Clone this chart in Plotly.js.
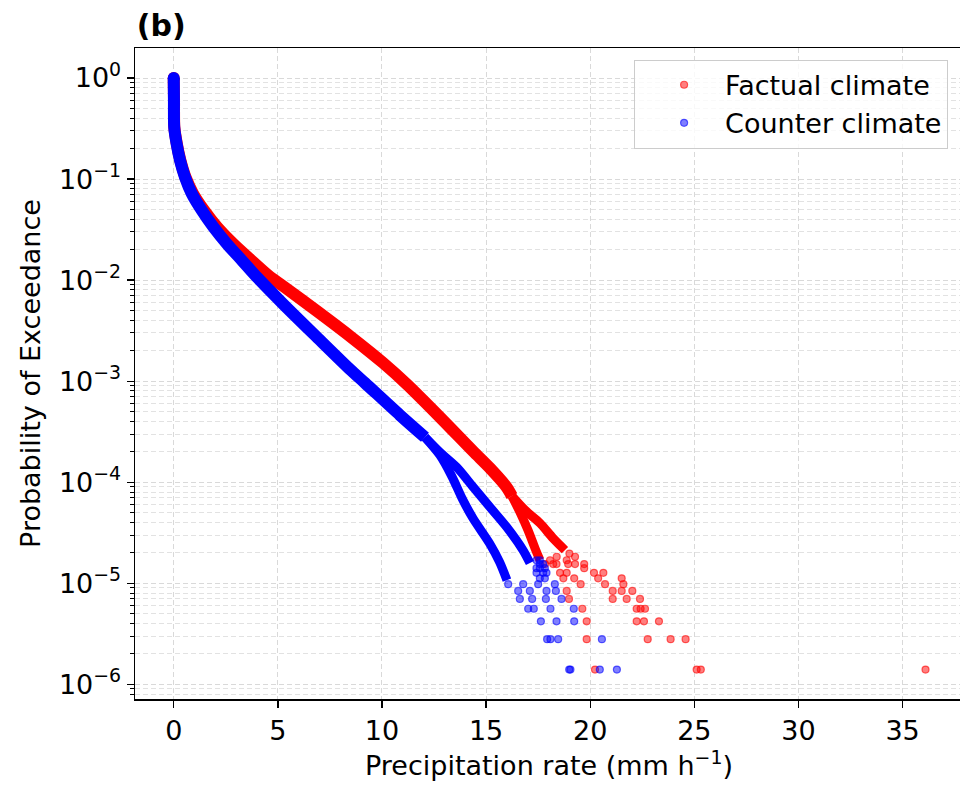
<!DOCTYPE html>
<html>
<head>
<meta charset="utf-8">
<script src="https://cdn.plot.ly/plotly-3.0.1.min.js"></script>
<style>html,body{margin:0;padding:0;overflow:hidden;background:#fff}</style>
</head>
<body>
<div id="chart" style="width:970px;height:786px"></div>
<script>
// ---- Factual climate: dense band ----
const factualBandX = [0, 0.014, 0.029, 0.144, 0.317, 0.566, 0.927, 1.455, 2.079, 2.847, 3.663, 4.527, 5.262, 6.865, 8.464, 10.048, 11.2, 12.785, 14.369, 15.185, 15.987, 16.241];
const factualBandY = [1.0, 0.601, 0.325, 0.226, 0.1535, 0.1042, 0.0719, 0.0491, 0.0336, 0.0230, 0.01609, 0.01118, 0.0087, 0.00496, 0.002787, 0.00152, 0.00093, 4.4e-4, 2.03e-4, 1.379e-4, 8.94e-5, 7.29e-5];
const factualStrandAX = [16.241, 16.625, 17.009, 17.345, 17.585];
const factualStrandAY = [7.29e-5, 5.06e-5, 3.36e-5, 2.23e-5, 1.696e-5];
const factualStrandBX = [16.241, 16.865, 17.585, 18.209, 18.785];
const factualStrandBY = [7.29e-5, 5.30e-5, 3.94e-5, 2.80e-5, 2.13e-5];
// ---- Factual climate: sparse tail points ----
const factualTailX = [19.0, 19.27, 18.07, 18.39, 18.87,
  17.83, 18.22, 18.38, 18.94, 19.27, 19.71,
  19.71,
  18.55, 18.87, 20.18, 20.63,
  18.71, 19.23, 20.38, 21.51,
  19.54, 20.71, 21.59,
  18.87, 21.08, 21.51, 22.02,
  18.98, 21.08, 21.75, 22.39,
  19.62, 22.23, 22.42, 22.63,
  19.83, 22.23, 22.58, 23.30,
  19.83, 22.76, 23.86, 24.58,
  20.23, 25.11, 25.31, 36.1];
const factualTailY = [1.97e-5, 1.83e-5, 1.69e-5, 1.83e-5, 1.69e-5,
  1.55e-5, 1.55e-5, 1.55e-5, 1.55e-5, 1.55e-5, 1.55e-5,
  1.41e-5,
  1.27e-5, 1.27e-5, 1.27e-5, 1.27e-5,
  1.12e-5, 1.12e-5, 1.12e-5, 1.12e-5,
  9.8e-6, 9.8e-6, 9.8e-6,
  8.4e-6, 8.4e-6, 8.4e-6, 8.4e-6,
  7.0e-6, 7.0e-6, 7.0e-6, 7.0e-6,
  5.6e-6, 5.6e-6, 5.6e-6, 5.6e-6,
  4.2e-6, 4.2e-6, 4.2e-6, 4.2e-6,
  2.8e-6, 2.8e-6, 2.8e-6, 2.8e-6,
  1.4e-6, 1.4e-6, 1.4e-6, 1.4e-6];

// ---- Counter climate: dense band ----
const counterBandX = [0, 0.01, 0.024, 0.134, 0.302, 0.542, 0.864, 1.344, 1.901, 2.544, 3.265, 3.985, 5.262, 6.865, 8.464, 9.184, 10.864, 12.064];
const counterBandY = [1.0, 0.601, 0.325, 0.226, 0.1535, 0.1042, 0.0719, 0.0491, 0.0336, 0.0230, 0.01573, 0.01075, 0.00578, 0.00274, 0.00131, 0.00096, 0.000461, 0.000279];
const counterStrandAX = [12.064, 12.785, 13.35, 13.85, 14.369, 15.185, 15.65, 16.0];
const counterStrandAY = [2.79e-4, 1.85e-4, 1.15e-4, 6.9e-5, 4.4e-5, 2.45e-5, 1.62e-5, 1.075e-5];
const counterStrandBX = [12.064, 12.785, 13.586, 14.383, 15.185, 15.987, 16.769, 17.105];
const counterStrandBY = [2.79e-4, 1.975e-4, 1.41e-4, 8.94e-5, 5.67e-5, 3.6e-5, 2.13e-5, 1.585e-5];
// ---- Counter climate: sparse tail points ----
const counterTailX = [17.42, 17.58,
  17.58, 17.74,
  17.42, 17.58, 17.82,
  17.42, 17.74, 17.90,
  17.58, 17.82,
  16.06, 16.78, 17.50, 18.30,
  16.54, 17.10, 17.90, 18.35,
  16.62, 17.21, 17.87, 18.62,
  17.02, 17.29, 18.09, 19.21,
  17.63, 18.38, 19.23,
  17.93, 18.09, 18.46, 20.56,
  18.99, 19.05, 20.46, 21.28];
const counterTailY = [1.69e-5, 1.69e-5,
  1.55e-5, 1.55e-5,
  1.41e-5, 1.41e-5, 1.41e-5,
  1.27e-5, 1.27e-5, 1.27e-5,
  1.12e-5, 1.12e-5,
  9.8e-6, 9.8e-6, 9.8e-6, 9.8e-6,
  8.4e-6, 8.4e-6, 8.4e-6, 8.4e-6,
  7.0e-6, 7.0e-6, 7.0e-6, 7.0e-6,
  5.6e-6, 5.6e-6, 5.6e-6, 5.6e-6,
  4.2e-6, 4.2e-6, 4.2e-6,
  2.8e-6, 2.8e-6, 2.8e-6, 2.8e-6,
  1.4e-6, 1.4e-6, 1.4e-6, 1.4e-6];

// ---- Axis ticks ----
const xTicks = [0, 5, 10, 15, 20, 25, 30, 35];
const yTickVals = [1e-6, 1e-5, 1e-4, 1e-3, 1e-2, 1e-1, 1];
const yTickText = ['10<sup>−6</sup>', '10<sup>−5</sup>', '10<sup>−4</sup>', '10<sup>−3</sup>', '10<sup>−2</sup>', '10<sup>−1</sup>', '10<sup>0</sup>'];

const minorVals = [];
for (let e = -7; e <= 0; e++) { for (let d = 2; d <= 9; d++) minorVals.push(d * Math.pow(10, e)); }

const RED = 'rgb(255,0,0)', BLUE = 'rgb(0,0,255)';
function band(x, y, color, w) {
  return {x: x, y: y, type: 'scatter', mode: 'lines', showlegend: false, hoverinfo: 'skip',
    line: {color: color, width: w, shape: 'spline', smoothing: 0.8}};
}
function cap(x, y, color, w) {
  return {x: [x[0]], y: [y[0]], type: 'scatter', mode: 'markers', showlegend: false, hoverinfo: 'skip',
    marker: {color: color, size: w, line: {width: 0}}};
}
function tail(x, y, name, rgb) {
  return {x: x, y: y, type: 'scatter', mode: 'markers', name: name,
    marker: {size: 7, color: 'rgba(' + rgb + ',0.5)', line: {color: 'rgba(' + rgb + ',0.6)', width: 1.2}}};
}

const traces = [
  band(factualBandX, factualBandY, RED, 12),
  band(factualStrandAX, factualStrandAY, RED, 9),
  band(factualStrandBX, factualStrandBY, RED, 9),
  cap(factualBandX, factualBandY, RED, 12),
  tail(factualTailX, factualTailY, 'Factual climate', '255,0,0'),
  band(counterBandX, counterBandY, BLUE, 12),
  band(counterStrandAX, counterStrandAY, BLUE, 9),
  band(counterStrandBX, counterStrandBY, BLUE, 9),
  cap(counterBandX, counterBandY, BLUE, 12),
  tail(counterTailX, counterTailY, 'Counter climate', '0,0,255')
];

const FONT = 'DejaVu Sans, Liberation Sans, sans-serif';
const layout = {
  width: 970, height: 786,
  margin: {l: 135, r: 7, t: 48, b: 87, pad: 0},
  paper_bgcolor: '#fff', plot_bgcolor: '#fff',
  font: {family: FONT, size: 27, color: '#000'},
  title: {text: '<b>(b)</b>', x: 0.141, xanchor: 'left', xref: 'container', y: 0.968, yanchor: 'middle', yref: 'container',
    font: {family: FONT, size: 30, color: '#000'}},
  xaxis: {
    type: 'linear', range: [-1.86, 37.9], tickmode: 'array', tickvals: xTicks, ticktext: xTicks.map(String),
    showline: true, linecolor: '#000', linewidth: 1.5, mirror: true, zeroline: false,
    ticks: 'outside', ticklen: 7, tickwidth: 1.3, tickcolor: '#000',
    showgrid: true, gridcolor: '#d9d9d9', gridwidth: 1, griddash: '5px,3px',
    tickfont: {size: 27},
    title: {text: 'Precipitation rate (mm h<sup>−1</sup>)', font: {size: 27}, standoff: 8}
  },
  yaxis: {
    type: 'log', range: [-6.145, 0.297], tickmode: 'array', tickvals: yTickVals, ticktext: yTickText,
    showline: true, linecolor: '#000', linewidth: 1.5, mirror: true, zeroline: false,
    ticks: 'outside', ticklen: 7, tickwidth: 1.3, tickcolor: '#000',
    showgrid: true, gridcolor: '#d9d9d9', gridwidth: 1, griddash: '5px,3px',
    tickfont: {size: 27},
    minor: {tickmode: 'array', tickvals: minorVals, ticks: 'outside', ticklen: 4, tickwidth: 1, tickcolor: '#000',
      showgrid: true, gridcolor: '#e2e2e2', gridwidth: 1, griddash: '5px,3px'},
    title: {text: 'Probability of Exceedance', font: {size: 27}, standoff: 10}
  },
  legend: {x: 0.982, xanchor: 'right', y: 0.982, yanchor: 'top', bgcolor: 'rgba(255,255,255,0.8)',
    bordercolor: '#cccccc', borderwidth: 1, font: {size: 27}, itemwidth: 72, indentation: 8},
  showlegend: true
};

Plotly.newPlot('chart', traces, layout, {displayModeBar: false, staticPlot: true});
</script>
</body>
</html>
